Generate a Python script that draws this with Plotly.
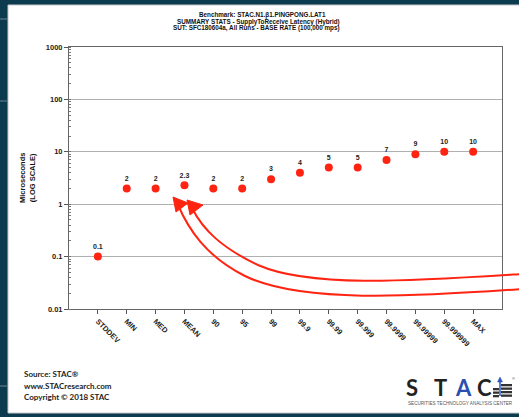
import plotly.graph_objects as go

categories = ["STDDEV", "MIN", "MED", "MEAN", "90", "95", "99", "99.9", "99.99",
              "99.999", "99.9999", "99.99999", "99.999999", "MAX"]
values = [0.1, 2, 2, 2.3, 2, 2, 3, 4, 5, 5, 7, 9, 10, 10]
point_labels = ["0.1", "2", "2", "2.3", "2", "2", "3", "4", "5", "5", "7", "9", "10", "10"]
y_tick_vals = [0.01, 0.1, 1, 10, 100, 1000]
y_tick_text = ["0.01", "0.1", "1", "10", "100", "1000"]

W, H = 519, 417
L, R, T, B = 69, 502, 47, 309
DARK = "#0c3a4f"
RED = "#ff2412"
FONT = "Liberation Sans"


def px(x, y):
    return (x - L) / (R - L), (B - y) / (B - T)


def path(points, close=False):
    s = ""
    for cmd, pts in points:
        if cmd == "L":
            for p in pts:
                s += "L %.5f,%.5f " % px(*p)
        else:
            coords = " ".join("%.5f,%.5f" % px(*p) for p in pts)
            s += f"{cmd} {coords} "
    if close:
        s += "Z"
    return s


fig = go.Figure()
fig.add_trace(go.Scatter(
    x=list(range(len(categories))), y=values, mode="markers+text",
    text=point_labels, textposition="top center",
    textfont=dict(family=FONT, size=7, color="#222", weight="bold"),
    marker=dict(size=8, color=RED), cliponaxis=False, showlegend=False,
    hoverinfo="skip",
))

shapes = []
# white panel
x0, y0 = px(8, 5)
x1, y1 = px(530, 413)
shapes.append(dict(type="rect", xref="paper", yref="paper", x0=x0, y0=y1, x1=x1, y1=y0,
                   fillcolor="white", line=dict(color="#c8c8c8", width=1), layer="below"))
# light lines in left dark strip
for yy in [19, 101, 386]:
    a0, b0 = px(0, yy)
    a1, b1 = px(7, yy)
    shapes.append(dict(type="line", xref="paper", yref="paper", x0=a0, y0=b0, x1=a1, y1=b1,
                       line=dict(color="#6a8594", width=1), layer="below"))

# curved arrows
outer = [("M", [(522, 289)]), ("C", [(410, 297), (300, 303), (245, 276)]),
         ("C", [(205, 256), (188, 228), (178, 205)])]
inner = [("M", [(522, 274)]), ("C", [(410, 281), (310, 288), (258, 265)]),
         ("C", [(222, 248), (203, 230), (192, 208)])]
for p in (outer, inner):
    shapes.append(dict(type="path", xref="paper", yref="paper", path=path(p),
                       line=dict(color=RED, width=2)))
heads = [
    [("M", [(173, 197)]), ("L", [(188, 203), (176, 212)])],
    [("M", [(187, 200)]), ("L", [(203, 205), (190, 215)])],
]
for hd in heads:
    shapes.append(dict(type="path", xref="paper", yref="paper", path=path(hd, close=True),
                       fillcolor=RED, line=dict(color=RED, width=1)))

# logo icon: stacked bars + blue arrow
bars = [(501, 512, 384), (501, 512, 387.5), (501, 512, 391), (501, 512, 394.5),
        (493, 499, 388), (493, 499, 391.5), (493, 499, 395)]
for xa, xb, yb in bars:
    a0, b0 = px(xa, yb)
    a1, b1 = px(xb, yb + 2.3)
    shapes.append(dict(type="rect", xref="paper", yref="paper", x0=a0, y0=b1, x1=a1, y1=b0,
                       fillcolor="#333", line=dict(width=0)))
a0, b0 = px(500, 396)
a1, b1 = px(500, 381)
shapes.append(dict(type="line", xref="paper", yref="paper", x0=a0, y0=b0, x1=a1, y1=b1,
                   line=dict(color="#2a55c0", width=1.5)))
shapes.append(dict(type="path", xref="paper", yref="paper",
                   path=path([("M", [(500, 377)]), ("L", [(497.5, 382), (502.5, 382)])], close=True),
                   fillcolor="#2a55c0", line=dict(color="#2a55c0", width=0.5)))

annotations = []


def ann(text, x, y, size, xanchor="center", color="#111", angle=0, family=FONT, weight="bold"):
    ax, ay = px(x, y)
    annotations.append(dict(text=text, x=ax, y=ay, xref="paper", yref="paper",
                            xanchor=xanchor, yanchor="middle", showarrow=False,
                            textangle=angle,
                            font=dict(family=family, size=size, color=color, weight=weight)))


ann("Benchmark: STAC.N1.β1.PINGPONG.LAT1", 262, 15, 6.3)
ann("SUMMARY STATS - SupplyToReceive Latency (Hybrid)", 258, 21.5, 6.3)
ann("SUT: SFC180604a, All Runs - BASE RATE (100,000 mps)", 256, 28, 6.3)
ann("Microseconds<br>(LOG SCALE)", 27, 178, 7.5, angle=-90)
ann("Source: STAC®", 22, 374, 8, xanchor="left", color="#222", family="Lato")
ann("www.STACresearch.com", 22, 385.5, 8, xanchor="left", color="#222", family="Lato")
ann("Copyright © 2018 STAC", 22, 397, 8, xanchor="left", color="#222", family="Lato")
for ch, cx, col in [("S", 412, "#222"), ("T", 440, "#222"), ("A", 463, "#2a4fb0"), ("C", 484, "#222")]:
    ann(ch, cx, 387, 22, color=col, family="Lato")
ann("SECURITIES TECHNOLOGY ANALYSIS CENTER", 460, 403.5, 4.6, color="#555", weight="normal")
ann("®", 513, 378, 4, color="#333", weight="normal")

fig.update_layout(
    width=W, height=H,
    margin=dict(l=L, r=W - R, t=T, b=H - B, pad=0),
    paper_bgcolor=DARK, plot_bgcolor="white",
    shapes=shapes, annotations=annotations, showlegend=False,
)
fig.update_xaxes(
    range=[-1, len(categories)], tickmode="array",
    tickvals=list(range(len(categories))), ticktext=categories,
    tickangle=45, ticks="outside", ticklen=4, tickcolor="#555",
    showgrid=False, showline=True, linecolor="#666", linewidth=1, mirror=True,
    tickfont=dict(family=FONT, size=7.5, color="#222", weight="bold"), zeroline=False,
)
fig.update_yaxes(
    type="log", range=[-2, 3], tickmode="array", tickvals=y_tick_vals, ticktext=y_tick_text,
    ticks="outside", ticklen=4, tickcolor="#555",
    showgrid=True, gridcolor="#b0b0b0", gridwidth=1,
    showline=True, linecolor="#666", linewidth=1, mirror=True,
    tickfont=dict(family=FONT, size=7.5, color="#222", weight="bold"),
    minor=dict(ticks="inside", ticklen=2, tickcolor="#777", dtick="D1", showgrid=False),
)

fig.write_html(
    "out.html",
    config={"displayModeBar": False},
    post_script="document.body.style.margin='0px';document.body.style.background='%s';" % DARK,
)
